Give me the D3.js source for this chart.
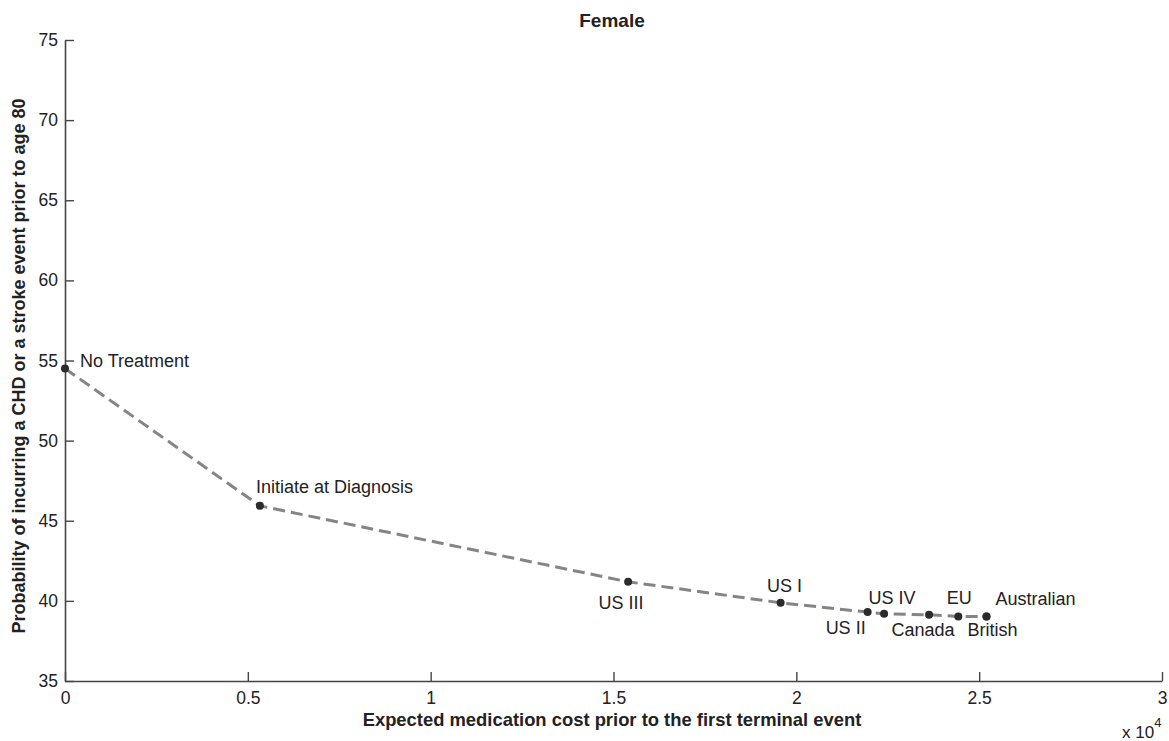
<!DOCTYPE html>
<html>
<head>
<meta charset="utf-8">
<script src="https://cdn.jsdelivr.net/npm/d3@7"></script>
<style>
  html, body { margin: 0; padding: 0; background: #fff; }
  svg { display: block; font-family: "Liberation Sans", Arial, sans-serif; }
</style>
</head>
<body>
<svg id="chart" width="1169" height="741"></svg>
<script>
// ---- data ----
const categories = ["No Treatment", "Initiate at Diagnosis", "US III", "US I", "US II", "US IV", "Canada", "EU", "British", "Australian"];
const costValues = [0, 5330, 15400, 19570, 21950, 22400, 23630, 24430, 25200, 25200];
const probValues = [54.5, 45.93, 41.19, 39.88, 39.30, 39.19, 39.13, 39.03, 39.03, 39.03];
const xTickValues = [0, 5000, 10000, 15000, 20000, 25000, 30000];
const xTickLabels = ["0", "0.5", "1", "1.5", "2", "2.5", "3"];
const yTickValues = [35, 40, 45, 50, 55, 60, 65, 70, 75];

// ---- label placement (style, not data) ----
const labelPlacement = {
  "No Treatment":          { dx: 15, dy: -2,  anchor: "start" },
  "Initiate at Diagnosis": { dx: -4, dy: -13, anchor: "start" },
  "US III":                { dx: -7, dy: 27,  anchor: "middle" },
  "US I":                  { dx: 4,  dy: -11, anchor: "middle" },
  "US II":                 { dx: -22, dy: 22, anchor: "middle" },
  "US IV":                 { dx: 8,  dy: -10, anchor: "middle" },
  "Canada":                { dx: -6, dy: 21,  anchor: "middle" },
  "EU":                    { dx: 1,  dy: -12, anchor: "middle" },
  "British":               { dx: 6,  dy: 20,  anchor: "middle" },
  "Australian":            { dx: 9,  dy: -11, anchor: "start" }
};

const points = categories.map((c, i) => ({ name: c, x: costValues[i], y: probValues[i] }));

const svg = d3.select("#chart");
const mLeft = 65, mRight = 1162, mTop = 40, mBottom = 681;

const x = d3.scaleLinear().domain([0, 30000]).range([mLeft, mRight]);
const y = d3.scaleLinear().domain([35, 75]).range([mBottom, mTop]);

const axisColor = "#444";
const textColor = "#222";

// x axis
const xAxis = svg.append("g")
  .attr("transform", `translate(0,${mBottom})`)
  .call(d3.axisBottom(x).tickValues(xTickValues)
    .tickFormat((d, i) => xTickLabels[i])
    .tickSizeInner(-9).tickSizeOuter(0).tickPadding(11));
xAxis.select(".domain").attr("stroke", axisColor).attr("stroke-width", 1.6);
xAxis.selectAll(".tick line").attr("stroke", axisColor).attr("stroke-width", 1.4);
xAxis.selectAll(".tick text").attr("fill", textColor).style("font-size", "17.5px")
  .style("font-family", "'Liberation Sans', Arial, sans-serif");

// y axis
const yAxis = svg.append("g")
  .attr("transform", `translate(${mLeft},0)`)
  .call(d3.axisLeft(y).tickValues(yTickValues)
    .tickSizeInner(-9).tickSizeOuter(0).tickPadding(7));
yAxis.select(".domain").attr("stroke", axisColor).attr("stroke-width", 1.6);
yAxis.selectAll(".tick line").attr("stroke", axisColor).attr("stroke-width", 1.4);
yAxis.selectAll(".tick text").attr("fill", textColor).style("font-size", "17.5px")
  .style("font-family", "'Liberation Sans', Arial, sans-serif");

// dashed line
const line = d3.line().x(d => x(d.x)).y(d => y(d.y));
svg.append("path")
  .datum(points)
  .attr("d", line)
  .attr("fill", "none")
  .attr("stroke", "#858585")
  .attr("stroke-width", 3)
  .attr("stroke-dasharray", "12,6");

// markers
svg.append("g").selectAll("circle")
  .data(points)
  .join("circle")
  .attr("cx", d => x(d.x))
  .attr("cy", d => y(d.y))
  .attr("r", 4)
  .attr("fill", "#2b2b2b");

// point labels
svg.append("g").selectAll("text")
  .data(points)
  .join("text")
  .attr("x", d => x(d.x) + labelPlacement[d.name].dx)
  .attr("y", d => y(d.y) + labelPlacement[d.name].dy)
  .attr("text-anchor", d => labelPlacement[d.name].anchor)
  .attr("fill", textColor)
  .style("font-size", "18px")
  .text(d => d.name);

// title
svg.append("text")
  .attr("x", 612)
  .attr("y", 27)
  .attr("text-anchor", "middle")
  .attr("fill", textColor)
  .style("font-size", "19px")
  .style("font-weight", "bold")
  .text("Female");

// x label
svg.append("text")
  .attr("x", 612)
  .attr("y", 726)
  .attr("text-anchor", "middle")
  .attr("fill", textColor)
  .style("font-size", "18.4px")
  .style("font-weight", "bold")
  .text("Expected medication cost prior to the first terminal event");

// y label
svg.append("text")
  .attr("transform", `translate(25,366) rotate(-90)`)
  .attr("text-anchor", "middle")
  .attr("fill", textColor)
  .style("font-size", "18px")
  .style("font-weight", "bold")
  .text("Probability of incurring a CHD or a stroke event prior to age 80");

// exponent
const expo = svg.append("text")
  .attr("x", 1122)
  .attr("y", 738)
  .attr("fill", textColor)
  .style("font-size", "17px");
expo.append("tspan").text("x 10");
expo.append("tspan").attr("dy", -11).style("font-size", "13px").text("4");
</script>
</body>
</html>
